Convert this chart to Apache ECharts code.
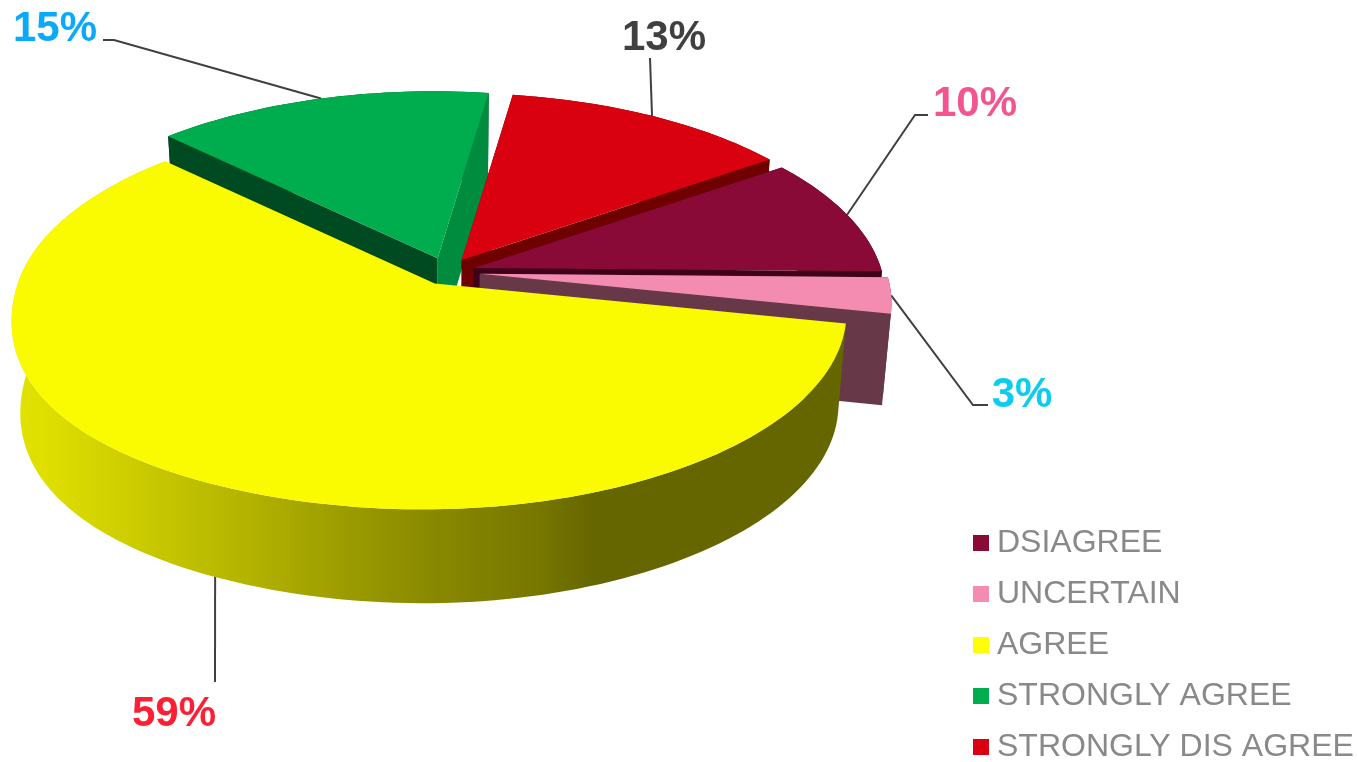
<!DOCTYPE html>
<html>
<head>
<meta charset="utf-8">
<title>Survey responses</title>
<style>
  html, body { margin: 0; padding: 0; background: #fff; }
  #chart { width: 1357px; height: 762px; }
</style>
<script src="https://cdn.jsdelivr.net/npm/echarts@6/dist/echarts.min.js"></script>
</head>
<body>
<div id="chart"></div>
<script>
// data
const categories = ['DSIAGREE', 'UNCERTAIN', 'AGREE', 'STRONGLY AGREE', 'STRONGLY DIS AGREE'];
const percents = [10, 3, 59, 15, 13];

// colours per slice
const topColors = ['#8a0a37', '#f48bb1', '#fafa00', '#00ad4e', '#d9000f'];
const legendColors = ['#8a0a37', '#f48bb1', '#ffff00', '#00ad4e', '#d9000f'];
const wallColors = ['#40001a', '#663848', null, '#004a22', '#6e0000'];
const endWallColors = ['#40001a', '#663848', null, '#008c3e', '#6e0000'];
const labelColors = ['#f2558f', '#0dcdee', '#ff1f35', '#0aa9fb', '#404040'];

// layout of the fake 3d pie
const cx = 447, cy = 272;
const radiusX = 412, radiusY = 192;
const tiltY = 0.15, tiltX = 0.012;
const depth = 91, bottomScale = 0.98;
const startDeg = -35;
const explode = [28, 33, 26, 29, 28];
const drawOrder = [3, 4, 0, 1, 2];

const labelPos = [[975, 104], [1022, 395], [174, 714], [55, 29], [664, 38]];
const leaderVia = [
  [[915, 115], [928, 115]],
  [[973, 405], [988, 405]],
  [[215, 682]],
  [[114, 40], [103, 40]],
  [[650, 58]]
];

const toRad = d => d * Math.PI / 180;

function sliceAngles(i) {
  const before = percents.slice(0, i).reduce((a, b) => a + b, 0);
  const a0 = startDeg + before * 3.6;
  return [a0, a0 + percents[i] * 3.6];
}

function apexOf(i) {
  const [a0, a1] = sliceAngles(i);
  const m = toRad((a0 + a1) / 2);
  return [cx + explode[i] * Math.cos(m), cy + explode[i] * Math.sin(m) * 0.5];
}

function rimPoint(apex, deg, plain) {
  const u = Math.cos(toRad(deg)), v = Math.sin(toRad(deg));
  const w = 1 - tiltY * v + tiltX * u;
  let x = apex[0] + radiusX * u / w;
  // the front left of the original pie bulges a bit past a true ellipse
  if (v > 0 && !plain) {
    x -= 6 * v * v * v * v;
    if (u < 0) x -= 50 * u * u * v * v;
  }
  return [x, apex[1] + radiusY * v / w];
}

function lower(p) {
  return [cx + (p[0] - cx) * bottomScale, p[1] + depth + (p[1] - cy) * 0.012];
}

function arcPoints(apex, a0, a1) {
  const pts = [];
  const n = Math.ceil((a1 - a0) / 1.5);
  for (let k = 0; k <= n; k++) pts.push(rimPoint(apex, a0 + (a1 - a0) * k / n));
  return pts;
}

const yellowWall = new echarts.graphic.LinearGradient(20, 0, 840, 0, [
  { offset: 0, color: '#e2e200' },
  { offset: 0.05, color: '#dcdc00' },
  { offset: 0.25, color: '#b8b800' },
  { offset: 0.41, color: '#999900' },
  { offset: 0.51, color: '#888800' },
  { offset: 0.63, color: '#777700' },
  { offset: 0.7, color: '#666600' },
  { offset: 1, color: '#666600' }
], true);

function renderSlice(i) {
  return function (params, api) {
    const [a0, a1] = sliceAngles(i);
    const apex = apexOf(i);
    const arc = arcPoints(apex, a0, a1);
    const children = [];

    // leader line goes first, it comes out from behind the slice
    const mid = rimPoint(apex, (a0 + a1) / 2, true);
    const anchor = i === 2 ? lower(mid) : mid;
    children.push({
      type: 'polyline',
      shape: { points: [anchor].concat(leaderVia[i]) },
      style: { stroke: '#404040', lineWidth: 2, fill: null }
    });

    // outer wall
    const rimFill = i === 2 ? yellowWall : wallColors[i];
    children.push({
      type: 'polygon',
      shape: { points: arc.concat(arc.slice().reverse().map(lower)) },
      style: { fill: rimFill }
    });

    // cut faces
    if (wallColors[i]) {
      const first = arc[0], last = arc[arc.length - 1];
      children.push({
        type: 'polygon',
        shape: { points: [apex, first, lower(first), lower(apex)] },
        style: { fill: wallColors[i] }
      });
      children.push({
        type: 'polygon',
        shape: { points: [apex, last, lower(last), lower(apex)] },
        style: { fill: endWallColors[i] }
      });
    }

    // top
    children.push({
      type: 'polygon',
      shape: { points: [apex].concat(arc) },
      style: { fill: topColors[i] }
    });

    children.push({
      type: 'text',
      style: {
        x: labelPos[i][0],
        y: labelPos[i][1],
        text: api.value(0) + '%',
        fill: labelColors[i],
        font: 'bold 42px "Liberation Sans", Arial, sans-serif',
        align: 'center',
        verticalAlign: 'middle'
      }
    });
    return { type: 'group', children: children };
  };
}

const chart = echarts.init(document.getElementById('chart'));

const series = categories.map((name, i) => ({
  name: name,
  type: 'custom',
  coordinateSystem: 'none',
  z: 2 + drawOrder.indexOf(i),
  itemStyle: { color: legendColors[i] },
  renderItem: renderSlice(i),
  data: [[percents[i]]]
}));

chart.setOption({
  animation: false,
  backgroundColor: '#fff',
  legend: {
    data: categories,
    orient: 'vertical',
    left: 973,
    top: 527,
    height: 260,
    icon: 'rect',
    itemWidth: 16,
    itemHeight: 16,
    itemGap: 19,
    padding: 0,
    selectedMode: false,
    textStyle: {
      color: '#898989',
      fontFamily: 'Liberation Sans',
      fontSize: 32,
      lineHeight: 32,
      padding: [0, 0, 0, 3]
    }
  },
  series: series
});

window.addEventListener('resize', chart.resize);
</script>
</body>
</html>
